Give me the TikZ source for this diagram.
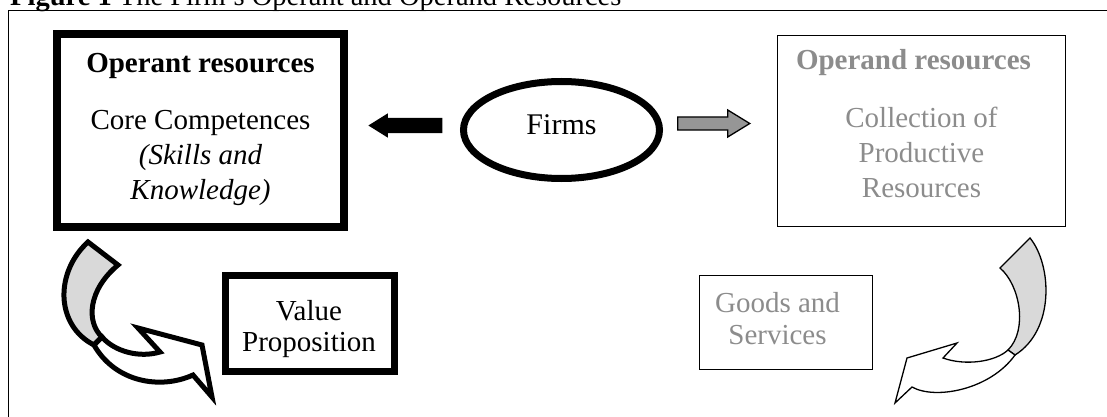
\documentclass[tikz,border=0pt]{standalone}
\usepackage{fontspec}
\setmainfont{Liberation Serif}
\usetikzlibrary{shapes.geometric,shapes.arrows}
\definecolor{txtgray}{RGB}{140,140,140}
\definecolor{bandgray}{RGB}{217,217,217}
\definecolor{arrgray}{RGB}{150,150,150}

\begin{document}
\begin{tikzpicture}[x=1pt,y=-1pt,
        txt/.style={font=\fontsize{29}{35}\selectfont,align=center,inner sep=0pt},
        heavybox/.style={draw,line width=8pt,inner sep=0pt},
        lightbox/.style={draw,line width=1.4pt,inner sep=0pt},
        blkarr/.style={single arrow,fill=black,inner sep=0pt,inner ysep=7.5pt,minimum width=0pt,
          minimum height=74pt,single arrow head extend=4.5pt,single arrow tip angle=64,shape border rotate=180},
        gryarr/.style={single arrow,draw=black,fill=arrgray,line width=1.3pt,inner sep=0pt,inner ysep=5.85pt,
          minimum width=0pt,minimum height=72pt,single arrow head extend=7pt,single arrow tip angle=63},
        bandback/.style={draw=black,fill=bandgray,line join=miter,miter limit=4},
        bandfront/.style={draw=black,fill=white,line join=miter,miter limit=4}]
        \useasboundingbox (0,0) rectangle (1107,417);
        \node[anchor=base west,inner sep=0pt,font=\fontsize{28.5}{33}\selectfont] (title) at (10,6)
              {\textbf{Figure 1} The Firm's Operant and Operand Resources};
        \draw[line width=1.3pt] (8.5,10.5) rectangle (1130,440);
        \node[heavybox,minimum width=287pt,minimum height=193pt] (operant) at (200.5,130.5){};
        \node[txt] (operanttxt) at (200.5,129.7)
              {\textbf{Operant resources}\\[22pt]Core Competences\\\textit{(Skills and}\\\textit{Knowledge)}};
        \node[lightbox,minimum width=287.5pt,minimum height=190.5pt] (operand) at (921.5,131){};
        \node[txt,text=txtgray] (operandtxt) at (921.5,123.6)
              {\textbf{Operand resources}\hspace*{16pt}\\[23pt]Collection of\\Productive\\Resources};
        \node[ellipse,draw,line width=7pt,minimum width=196pt,minimum height=97pt,
              font=\fontsize{30}{36}\selectfont,text depth=10pt] (firms) at (561.5,130){Firms};
        \node[blkarr,anchor=tip] (toleft) at (368,125.5){};
        \node[gryarr,anchor=tip] (toright) at (751,123.5){};
        \node[heavybox,line width=7pt,minimum width=169pt,minimum height=96pt] (value) at (310,323.5){};
        \node[txt,font=\fontsize{29}{31}\selectfont] (valuetxt) at (309,329){Value\\Proposition};
        \node[lightbox,minimum width=173pt,minimum height=94pt] (goods) at (786,322.5){};
        \node[txt,text=txtgray,font=\fontsize{29}{32}\selectfont] (goodstxt) at (777.5,318.2){Goods and\\Services};
        \draw[bandback,line width=5pt] (88,242) .. controls (55,272) and (55,325) .. (94,345) -- (102,337)
              .. controls (86,322) and (88,290) .. (118,265) -- cycle;
        \draw[bandfront,line width=5pt] (102,337) .. controls (115,352) and (140,358) .. (160,352) -- (138,328)
              -- (202,345) -- (212,397) -- (193,375) .. controls (160,390) and (115,382) .. (94,345) -- cycle;
        \draw[bandback,line width=1.3pt] (1030,238) .. controls (1052,265) and (1055,330) .. (1015,355) -- (1008,350)
              .. controls (1028,330) and (1020,285) .. (1000,268) -- cycle;
        \draw[bandfront,line width=1.3pt] (1008,350) .. controls (995,362) and (965,366) .. (943,358) -- (957,343)
              -- (907,358) -- (895,403) -- (912,387) .. controls (935,400) and (990,390) .. (1015,355) -- cycle;
\end{tikzpicture}
\end{document}
